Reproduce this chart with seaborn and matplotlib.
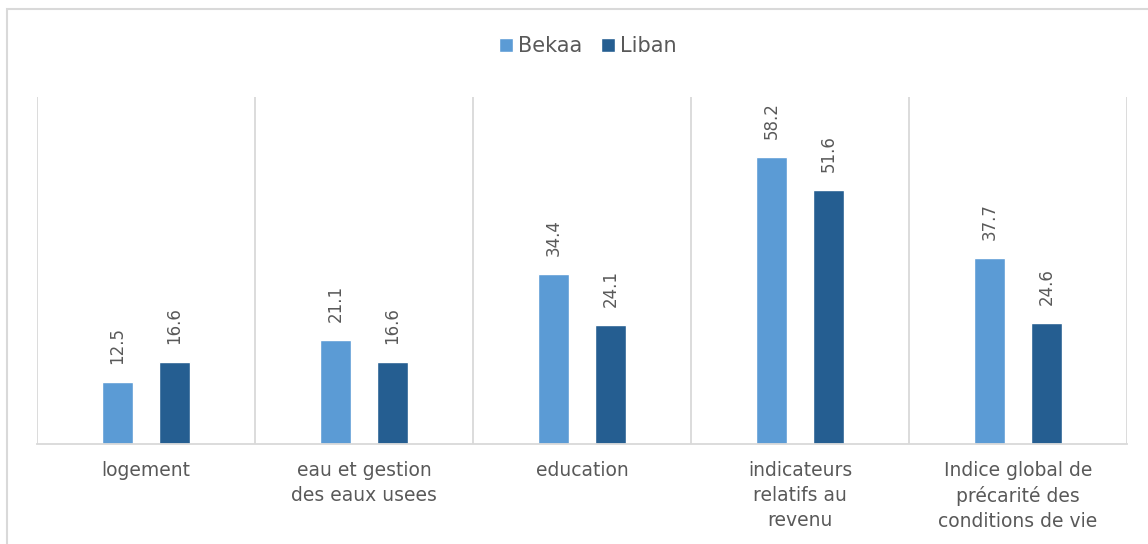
import matplotlib
matplotlib.use("Agg")
import matplotlib.pyplot as plt
import seaborn as sns
import pandas as pd
from matplotlib.patches import Rectangle

categories = ["logement", "eau et gestion\ndes eaux usees", "education",
              "indicateurs\nrelatifs au\nrevenu",
              "Indice global de\nprécarité des\nconditions de vie"]
series_names = ["Bekaa", "Liban"]
bekaa = [12.5, 21.1, 34.4, 58.2, 37.7]
liban = [16.6, 16.6, 24.1, 51.6, 24.6]
colors = ["#5B9BD5", "#255E91"]

df = pd.DataFrame({
    "cat": categories * 2,
    "serie": [series_names[0]] * len(categories) + [series_names[1]] * len(categories),
    "val": bekaa + liban,
})

sns.set_theme(style="white")
plt.rcParams["font.family"] = ["DejaVu Sans"]
txt = "#595959"
grid = "#D9D9D9"

fig = plt.figure(figsize=(11.48, 5.44), dpi=100)
ax = fig.add_axes([37/1148, 100/544, 1090/1148, 347/544])

sns.barplot(data=df, x="cat", y="val", hue="serie", palette=colors,
            order=categories, hue_order=series_names,
            width=0.523, gap=0.47, ax=ax, saturation=1, legend=True)

ax.set_xlim(-0.5, len(categories) - 0.5)
ax.set_ylim(0, 70.4)
ax.set_yticks([])
ax.set_xlabel("")
ax.set_ylabel("")
for s in ["top", "right", "left"]:
    ax.spines[s].set_visible(False)
ax.spines["bottom"].set_color(grid)
ax.spines["bottom"].set_linewidth(1.3)

for b in [i - 0.5 for i in range(len(categories) + 1)]:
    ax.axvline(b, color=grid, lw=1.3, zorder=0)

ax.tick_params(axis="x", length=0, pad=12, labelsize=13.5, labelcolor=txt)
for lab in ax.get_xticklabels():
    lab.set_linespacing(1.4)

for cont in ax.containers:
    for bar in cont:
        h = bar.get_height()
        ax.annotate(f"{h:.1f}", (bar.get_x() + bar.get_width() / 2, h),
                    xytext=(0, 13), textcoords="offset points",
                    rotation=90, ha="center", va="bottom",
                    fontsize=12, color=txt)

handles, labels = ax.get_legend_handles_labels()
ax.get_legend().remove()
fig.legend(handles, labels, loc="center", bbox_to_anchor=(588/1148, 1 - 46/544),
           ncol=2, frameon=False, fontsize=15, labelcolor=txt,
           handlelength=0.65, handleheight=0.65, handletextpad=0.25,
           columnspacing=0.9)

fig.patches.append(Rectangle((7/1148, -0.1), 1.2, 1 - 9/544 + 0.1,
                             transform=fig.transFigure, fill=False,
                             edgecolor=grid, lw=1.5))

fig.savefig("out.png", dpi=100)
